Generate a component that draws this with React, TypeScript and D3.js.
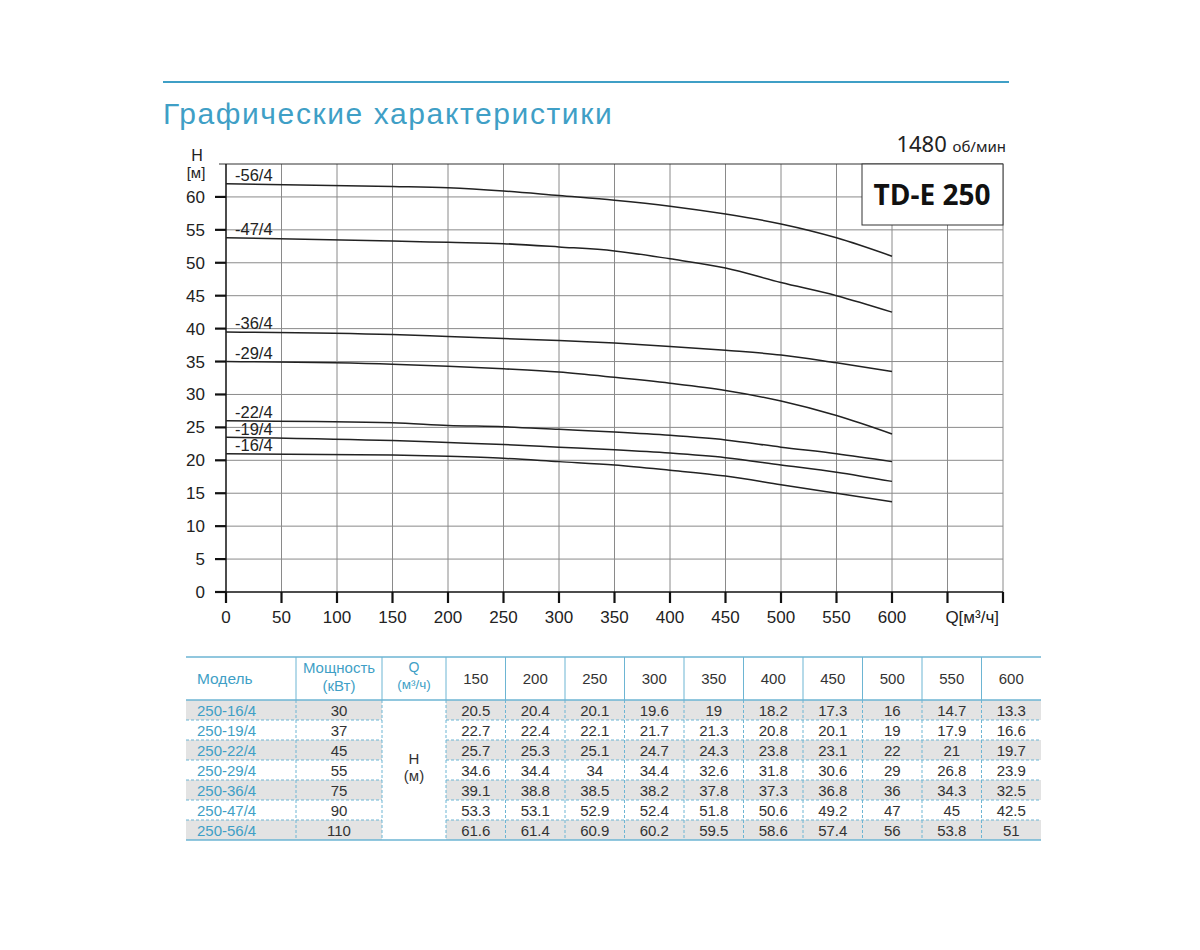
import React from "react";
import * as d3 from "d3";

// pump models, bottom to top
const models = ["250-16/4", "250-19/4", "250-22/4", "250-29/4", "250-36/4", "250-47/4", "250-56/4"];
const curveLabels = ["-16/4", "-19/4", "-22/4", "-29/4", "-36/4", "-47/4", "-56/4"];
const powers = [30, 37, 45, 55, 75, 90, 110];

// table: Q columns and head values
const tableQ = [150, 200, 250, 300, 350, 400, 450, 500, 550, 600];
const tableH = [
  [20.5, 20.4, 20.1, 19.6, 19, 18.2, 17.3, 16, 14.7, 13.3],
  [22.7, 22.4, 22.1, 21.7, 21.3, 20.8, 20.1, 19, 17.9, 16.6],
  [25.7, 25.3, 25.1, 24.7, 24.3, 23.8, 23.1, 22, 21, 19.7],
  [34.6, 34.4, 34, 34.4, 32.6, 31.8, 30.6, 29, 26.8, 23.9],
  [39.1, 38.8, 38.5, 38.2, 37.8, 37.3, 36.8, 36, 34.3, 32.5],
  [53.3, 53.1, 52.9, 52.4, 51.8, 50.6, 49.2, 47, 45, 42.5],
  [61.6, 61.4, 60.9, 60.2, 59.5, 58.6, 57.4, 56, 53.8, 51],
];

// curves as drawn on the chart
const curveQ = [0, 150, 200, 250, 300, 350, 400, 450, 500, 550, 600];
const curveH = [
  [21.0, 20.8, 20.6, 20.3, 19.8, 19.3, 18.5, 17.6, 16.3, 15.0, 13.7],
  [23.5, 23.0, 22.7, 22.4, 22.0, 21.6, 21.1, 20.4, 19.3, 18.2, 16.8],
  [26.0, 25.7, 25.3, 25.1, 24.7, 24.3, 23.8, 23.1, 22.0, 21.0, 19.8],
  [35.0, 34.6, 34.3, 33.9, 33.4, 32.6, 31.7, 30.6, 29.0, 26.8, 24.0],
  [39.5, 39.1, 38.8, 38.5, 38.2, 37.8, 37.3, 36.7, 36.0, 34.8, 33.5],
  [53.8, 53.3, 53.1, 52.9, 52.4, 51.8, 50.6, 49.2, 47.0, 45.0, 42.5],
  [62.0, 61.6, 61.4, 60.9, 60.2, 59.5, 58.6, 57.4, 55.9, 53.8, 51.0],
];

const xTicks = [0, 50, 100, 150, 200, 250, 300, 350, 400, 450, 500, 550, 600];
const yTicks = [0, 5, 10, 15, 20, 25, 30, 35, 40, 45, 50, 55, 60];

const TEAL = "#3f9fc6";
const LINE = "#6db5d3";
const FONT = "'Liberation Sans', Arial, sans-serif";

export default function App() {
  const x = d3.scaleLinear().domain([0, 700]).range([226, 1003]);
  const y = d3.scaleLinear().domain([0, 65]).range([592, 164]);
  const line = d3
    .line<number>()
    .x((_, i) => x(curveQ[i]))
    .y((d) => y(d))
    .curve(d3.curveMonotoneX);

  const gridX = d3.range(50, 701, 50);
  const gridY = d3.range(5, 61, 5);

  // table layout
  const colModel = [186, 296];
  const colPow = [296, 382];
  const colQ = [382, 446];
  const vx = d3.scaleBand<number>().domain(tableQ).range([446, 1041]);
  const rowsTop = d3.scaleBand<string>().domain(models).range([700, 840]);
  const headTop = 657;
  const headBot = 700;
  const vLines = [colModel[1], colPow[1], colQ[1], ...tableQ.slice(1).map((q) => vx(q) as number)];

  return (
    <svg width={1200} height={950} style={{ position: "absolute", left: 0, top: 0 }} fontFamily={FONT}>
      <rect width={1200} height={950} fill="#fff" />
      {/* header */}
      <line x1={163} x2={1009} y1={82} y2={82} stroke={TEAL} strokeWidth={2} />
      <text x={163} y={124} fontSize={30} fill={TEAL} letterSpacing={1.6}>
        Графические характеристики
      </text>
      <text x={1006} y={152} textAnchor="end" fill="#222" fontFamily="'Noto Sans', sans-serif">
        <tspan fontSize={22}>1480 </tspan>
        <tspan fontSize={15}>об/мин</tspan>
      </text>

      {/* grid */}
      <g stroke="#8a8a8a" strokeWidth={1}>
        {gridX.map((q) => (
          <line key={"gx" + q} x1={x(q)} x2={x(q)} y1={y(65)} y2={y(0)} />
        ))}
        {gridY.map((h) => (
          <line key={"gy" + h} x1={x(0)} x2={x(700)} y1={y(h)} y2={y(h)} />
        ))}
      </g>
      <line x1={219} x2={x(700)} y1={y(65)} y2={y(65)} stroke="#333" strokeWidth={1.2} />

      {/* axes */}
      <line x1={x(0)} x2={x(0)} y1={y(65)} y2={y(0)} stroke="#111" strokeWidth={1.5} />
      <line x1={x(0)} x2={x(700)} y1={y(0)} y2={y(0)} stroke="#111" strokeWidth={1.5} />
      {yTicks.map((h) => (
        <g key={"yt" + h}>
          <line x1={215} x2={x(0)} y1={y(h)} y2={y(h)} stroke="#111" strokeWidth={2.2} />
          <text x={205} y={y(h) + 6} textAnchor="end" fontSize={17} fill="#222">
            {h}
          </text>
        </g>
      ))}
      {[...xTicks, 650, 700].map((q) => (
        <line key={"xt" + q} x1={x(q)} x2={x(q)} y1={y(0)} y2={y(0) + 11} stroke="#111" strokeWidth={2.2} />
      ))}
      {xTicks.map((q) => (
        <text key={"xl" + q} x={x(q)} y={623} textAnchor="middle" fontSize={17} fill="#222">
          {q}
        </text>
      ))}
      <text x={999} y={623} textAnchor="end" fontSize={17} fill="#222">
        Q[м³/ч]
      </text>
      <text x={197} y={161} textAnchor="middle" fontSize={16} fill="#222">
        H
      </text>
      <text x={196} y={178} textAnchor="middle" fontSize={15} fill="#222">
        [м]
      </text>

      {/* curves */}
      {curveH.map((row, i) => (
        <g key={"c" + i}>
          <path d={line(row) || ""} fill="none" stroke="#222" strokeWidth={1.5} />
          <text x={235} y={y(row[0]) - 2.5} fontSize={16.5} fill="#222">
            {curveLabels[i]}
          </text>
        </g>
      ))}

      {/* model box */}
      <rect x={862} y={164} width={141} height={61} fill="#fff" stroke="#333" strokeWidth={1} />
      <text x={932} y={205} textAnchor="middle" fontSize={28} fontWeight="bold" fill="#111" fontFamily="'Open Sans', sans-serif">
        TD-E 250
      </text>

      {/* table */}
      {models.map((m, i) =>
        i % 2 === 0 ? (
          <g key={"bg" + m}>
            <rect x={colModel[0]} y={rowsTop(m)} width={colPow[1] - colModel[0]} height={rowsTop.bandwidth()} fill="#e3e3e3" />
            <rect x={vx(150)} y={rowsTop(m)} width={1041 - (vx(150) as number)} height={rowsTop.bandwidth()} fill="#e3e3e3" />
          </g>
        ) : null
      )}
      <g stroke={LINE} strokeWidth={1}>
        {vLines.map((vxp) => (
          <line key={"hv" + vxp} x1={vxp} x2={vxp} y1={headTop} y2={headBot} />
        ))}
      </g>
      <g stroke={LINE} strokeWidth={1} strokeDasharray="3,2">
        {vLines.map((vxp) => (
          <line key={"bv" + vxp} x1={vxp} x2={vxp} y1={headBot} y2={840} />
        ))}
        {models.slice(1).map((m) => (
          <g key={"bh" + m}>
            <line x1={colModel[0]} x2={colPow[1]} y1={rowsTop(m)} y2={rowsTop(m)} />
            <line x1={colQ[1]} x2={1041} y1={rowsTop(m)} y2={rowsTop(m)} />
          </g>
        ))}
      </g>
      <line x1={186} x2={1041} y1={headTop} y2={headTop} stroke={LINE} strokeWidth={1.5} />
      <line x1={186} x2={1041} y1={headBot} y2={headBot} stroke={LINE} strokeWidth={1.5} />
      <line x1={186} x2={1041} y1={840} y2={840} stroke={LINE} strokeWidth={1.5} />

      {/* header texts */}
      <text x={197} y={684} fontSize={15.5} fill={TEAL}>
        Модель
      </text>
      <text x={(colPow[0] + colPow[1]) / 2} y={673} textAnchor="middle" fontSize={15} fill={TEAL}>
        Мощность
      </text>
      <text x={(colPow[0] + colPow[1]) / 2} y={691} textAnchor="middle" fontSize={15} fill={TEAL}>
        (кВт)
      </text>
      <text x={(colQ[0] + colQ[1]) / 2} y={672} textAnchor="middle" fontSize={14} fill={TEAL}>
        Q
      </text>
      <text x={(colQ[0] + colQ[1]) / 2} y={689} textAnchor="middle" fontSize={13.5} fill={TEAL}>
        (м³/ч)
      </text>
      {tableQ.map((q) => (
        <text key={"hq" + q} x={(vx(q) as number) + vx.bandwidth() / 2} y={684} textAnchor="middle" fontSize={15} fill="#333">
          {q}
        </text>
      ))}
      <text x={(colQ[0] + colQ[1]) / 2} y={764} textAnchor="middle" fontSize={15} fill="#333">
        H
      </text>
      <text x={(colQ[0] + colQ[1]) / 2} y={781} textAnchor="middle" fontSize={15} fill="#333">
        (м)
      </text>

      {/* body texts */}
      {models.map((m, i) => {
        const ty = (rowsTop(m) as number) + rowsTop.bandwidth() / 2 + 5.5;
        return (
          <g key={"r" + m} fontSize={15}>
            <text x={197} y={ty} fill={TEAL}>
              {m}
            </text>
            <text x={(colPow[0] + colPow[1]) / 2} y={ty} textAnchor="middle" fill="#333">
              {powers[i]}
            </text>
            {tableH[i].map((v, j) => (
              <text key={"v" + j} x={(vx(tableQ[j]) as number) + vx.bandwidth() / 2} y={ty} textAnchor="middle" fill="#333">
                {v}
              </text>
            ))}
          </g>
        );
      })}
    </svg>
  );
}
